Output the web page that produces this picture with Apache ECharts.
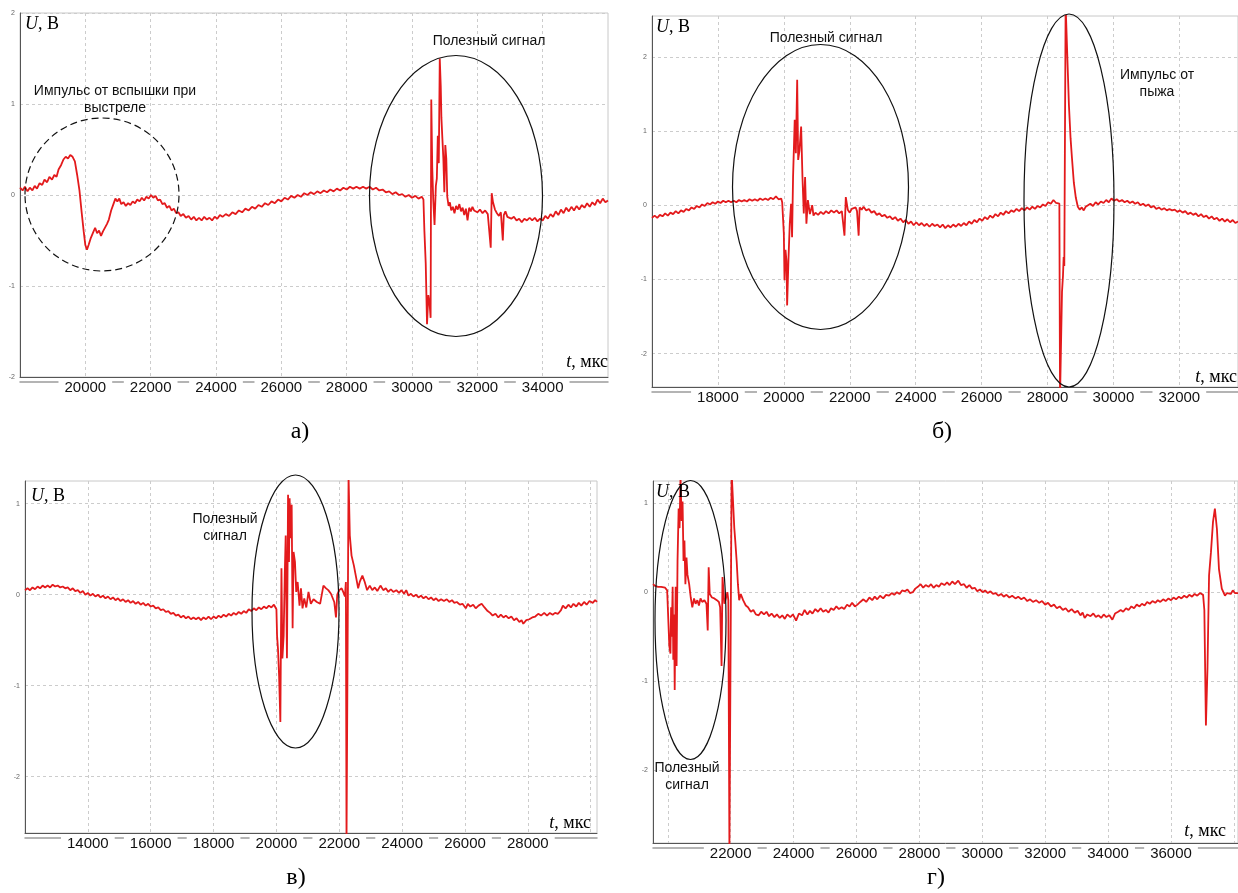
<!DOCTYPE html>
<html><head><meta charset="utf-8">
<script src="https://cdn.jsdelivr.net/npm/echarts@6/dist/echarts.min.js"></script>
<style>html,body{margin:0;padding:0;background:#fff}#c{width:1238px;height:893px}</style>
</head><body><div id="c"></div>
<script>
// ---------- DATA: [t, мкс ; U, В] ----------
const sigA = [
[18000,0.08],[18080,0.05],[18150,0.09],[18230,0.04],[18300,0.08],[18380,0.05],[18450,0.1],[18520,0.07],[18600,0.13],[18680,0.11],
[18750,0.17],[18830,0.14],[18900,0.2],[18980,0.17],[19050,0.22],[19120,0.2],[19180,0.28],[19260,0.33],[19330,0.39],[19400,0.42],
[19470,0.4],[19540,0.44],[19610,0.42],[19680,0.37],[19750,0.22],[19820,0.05],[19890,-0.2],[19950,-0.4],[20000,-0.55],[20050,-0.6],
[20100,-0.55],[20160,-0.48],[20230,-0.42],[20300,-0.36],[20360,-0.42],[20420,-0.39],[20480,-0.45],[20540,-0.4],[20600,-0.38],[20660,-0.32],
[20720,-0.27],[20790,-0.17],[20860,-0.1],[20920,-0.04],[20980,-0.07],[21040,-0.04],[21100,-0.1],[21170,-0.08],[21240,-0.12],[21310,-0.09],
[21380,-0.11],[21450,-0.07],[21520,-0.09],[21590,-0.05],[21660,-0.07],[21730,-0.03],[21800,-0.06],[21870,-0.02],[21940,-0.04],[22010,0.0],
[22080,-0.03],[22150,-0.01],[22220,-0.06],[22290,-0.05],[22360,-0.1],[22430,-0.09],[22500,-0.14],[22570,-0.12],[22640,-0.17],[22710,-0.15],
[22780,-0.2],[22850,-0.19],[22920,-0.23],[23000,-0.21],[23080,-0.25],[23160,-0.23],[23240,-0.27],[23320,-0.24],[23400,-0.28],[23480,-0.25],
[23560,-0.28],[23640,-0.24],[23720,-0.27],[23800,-0.25],[23880,-0.28],[23960,-0.24],[24040,-0.26],[24120,-0.22],[24200,-0.24],[24300,-0.21],
[24400,-0.23],[24500,-0.19],[24600,-0.21],[24700,-0.17],[24800,-0.19],[24900,-0.15],[25000,-0.17],[25100,-0.13],[25200,-0.15],[25300,-0.11],
[25400,-0.13],[25500,-0.09],[25600,-0.11],[25700,-0.07],[25800,-0.09],[25900,-0.05],[26000,-0.07],[26100,-0.03],[26200,-0.05],[26300,-0.01],
[26400,-0.03],[26500,0.0],[26600,-0.02],[26700,0.02],[26800,0.0],[26900,0.03],[27000,0.01],[27100,0.04],[27200,0.02],[27300,0.05],
[27400,0.03],[27500,0.06],[27600,0.04],[27700,0.07],[27800,0.05],[27900,0.08],[28000,0.06],[28100,0.09],[28200,0.07],[28300,0.09],
[28400,0.07],[28500,0.09],[28600,0.07],[28700,0.09],[28800,0.06],[28900,0.08],[29000,0.05],[29100,0.06],[29200,0.03],[29300,0.04],
[29400,0.01],[29500,0.03],[29600,0.0],[29700,0.01],[29800,-0.02],[29900,0.0],[30000,-0.03],[30100,-0.01],[30200,-0.04],[30300,-0.02],
[30350,-0.05],[30380,-0.4],[30420,-0.75],[30460,-1.42],[30500,-1.1],[30540,-1.2],[30570,-1.35],[30590,1.05],[30620,0.3],[30650,-0.05],
[30690,-0.33],[30730,0.1],[30760,0.18],[30790,0.65],[30820,0.35],[30850,1.5],[30880,1.2],[30900,0.85],[30930,0.62],[30960,0.4],
[30990,0.03],[31020,0.55],[31050,0.4],[31080,-0.02],[31120,-0.12],[31160,-0.08],[31200,-0.17],[31250,-0.13],[31300,-0.2],[31350,-0.12],
[31400,-0.16],[31450,-0.1],[31500,-0.18],[31550,-0.14],[31600,-0.22],[31650,-0.15],[31700,-0.28],[31750,-0.14],[31800,-0.18],[31850,-0.13],
[31900,-0.17],[31950,-0.15],[32000,-0.19],[32080,-0.16],[32160,-0.2],[32240,-0.17],[32320,-0.21],[32380,-0.19],[32410,-0.58],[32440,0.02],
[32480,-0.08],[32540,-0.16],[32600,-0.2],[32660,-0.23],[32720,-0.19],[32780,-0.5],[32810,-0.22],[32860,-0.18],[32920,-0.24],[32980,-0.22],
[33040,-0.26],[33120,-0.24],[33200,-0.28],[33280,-0.26],[33360,-0.3],[33440,-0.26],[33520,-0.28],[33600,-0.25],[33680,-0.28],[33760,-0.25],
[33840,-0.29],[33920,-0.26],[34000,-0.28],[34080,-0.23],[34160,-0.26],[34240,-0.21],[34320,-0.24],[34400,-0.18],[34480,-0.22],[34560,-0.16],
[34640,-0.2],[34720,-0.14],[34800,-0.18],[34880,-0.13],[34960,-0.17],[35040,-0.12],[35120,-0.16],[35200,-0.11],[35280,-0.14],[35360,-0.09],
[35440,-0.13],[35520,-0.08],[35600,-0.11],[35680,-0.05],[35760,-0.09],[35840,-0.04],[35920,-0.08],[36000,-0.06]
];
const sigB = [
[16000,-0.17],[16080,-0.14],[16160,-0.17],[16240,-0.13],[16320,-0.15],[16400,-0.11],[16480,-0.14],[16560,-0.1],[16640,-0.12],[16720,-0.08],
[16800,-0.11],[16880,-0.07],[16960,-0.09],[17040,-0.05],[17120,-0.07],[17200,-0.03],[17280,-0.05],[17360,-0.01],[17440,-0.03],[17520,0.01],
[17600,-0.01],[17680,0.03],[17760,0.01],[17840,0.04],[17920,0.02],[18000,0.05],[18080,0.03],[18160,0.06],[18240,0.04],[18320,0.06],
[18400,0.04],[18480,0.06],[18560,0.04],[18640,0.07],[18720,0.05],[18800,0.07],[18880,0.05],[18960,0.08],[19040,0.06],[19120,0.08],
[19200,0.06],[19280,0.09],[19360,0.07],[19440,0.09],[19520,0.07],[19600,0.1],[19680,0.08],[19760,0.12],[19840,0.08],[19920,0.09],
[19950,0.04],[20000,-0.38],[20020,-1.01],[20050,-0.6],[20080,-0.75],[20100,-1.35],[20140,-0.74],[20180,-0.25],[20220,0.02],[20250,-0.43],
[20280,0.38],[20330,1.15],[20365,0.7],[20405,1.69],[20435,0.61],[20475,0.74],[20525,1.06],[20565,0.38],[20605,-0.11],[20645,0.38],
[20685,-0.25],[20730,0.07],[20790,-0.12],[20860,0.0],[20900,-0.14],[20960,-0.1],[21040,-0.13],[21120,-0.09],[21200,-0.12],[21280,-0.08],
[21360,-0.11],[21440,-0.07],[21520,-0.1],[21600,-0.07],[21680,-0.11],[21760,-0.08],[21800,-0.1],[21840,-0.41],[21880,0.11],[21940,-0.06],
[22000,-0.1],[22060,-0.05],[22120,-0.07],[22180,-0.03],[22220,-0.08],[22270,-0.41],[22300,-0.03],[22360,-0.06],[22420,-0.02],[22500,-0.07],
[22580,-0.05],[22660,-0.1],[22740,-0.08],[22820,-0.13],[22900,-0.11],[22980,-0.15],[23060,-0.13],[23140,-0.17],[23220,-0.15],[23300,-0.19],
[23380,-0.16],[23460,-0.21],[23540,-0.18],[23620,-0.23],[23700,-0.2],[23780,-0.25],[23860,-0.22],[23940,-0.27],[24020,-0.23],[24100,-0.27],
[24180,-0.24],[24260,-0.28],[24340,-0.25],[24420,-0.29],[24500,-0.25],[24580,-0.28],[24660,-0.26],[24740,-0.3],[24820,-0.26],[24900,-0.31],
[24980,-0.27],[25060,-0.3],[25140,-0.26],[25220,-0.29],[25300,-0.25],[25380,-0.28],[25460,-0.24],[25540,-0.27],[25620,-0.22],[25700,-0.25],
[25780,-0.2],[25860,-0.23],[25940,-0.18],[26020,-0.21],[26100,-0.16],[26180,-0.19],[26260,-0.14],[26340,-0.17],[26420,-0.12],[26500,-0.15],
[26580,-0.1],[26660,-0.13],[26740,-0.08],[26820,-0.11],[26900,-0.07],[26980,-0.09],[27060,-0.05],[27140,-0.08],[27220,-0.04],[27300,-0.07],
[27380,-0.03],[27460,-0.06],[27540,-0.02],[27620,-0.05],[27700,-0.01],[27780,-0.03],[27860,0.01],[27940,-0.01],[28020,0.04],[28100,0.02],
[28180,0.07],[28260,0.03],[28320,0.05],[28360,0.02],[28380,-2.6],[28420,-2.6],[28440,-1.17],[28470,-0.95],[28490,-0.7],[28510,-0.82],
[28550,2.7],[28610,2.7],[28650,1.35],[28700,0.9],[28740,0.65],[28800,0.3],[28860,0.1],[28920,-0.02],[28980,-0.06],[29040,-0.03],
[29100,-0.07],[29160,-0.02],[29220,-0.04],[29300,0.02],[29380,-0.01],[29460,0.04],[29540,0.01],[29620,0.05],[29700,0.03],[29780,0.07],
[29860,0.04],[29940,0.09],[30020,0.06],[30100,0.08],[30180,0.05],[30260,0.07],[30340,0.04],[30420,0.06],[30500,0.03],[30580,0.05],
[30660,0.02],[30740,0.04],[30820,0.0],[30900,0.02],[30980,-0.01],[31060,0.01],[31140,-0.03],[31220,-0.01],[31300,-0.05],[31380,-0.03],
[31460,-0.06],[31540,-0.04],[31620,-0.07],[31700,-0.05],[31780,-0.07],[31860,-0.06],[31940,-0.09],[32020,-0.07],[32100,-0.1],[32180,-0.08],
[32260,-0.12],[32340,-0.1],[32420,-0.13],[32500,-0.11],[32580,-0.15],[32660,-0.12],[32740,-0.16],[32820,-0.14],[32900,-0.18],[32980,-0.15],
[33060,-0.19],[33140,-0.17],[33220,-0.21],[33300,-0.18],[33380,-0.22],[33460,-0.19],[33540,-0.23],[33620,-0.2],[33700,-0.24],[33780,-0.22]
];
const sigC = [
[12000,0.05],[12080,0.07],[12160,0.05],[12240,0.08],[12320,0.06],[12400,0.09],[12480,0.07],[12560,0.1],[12640,0.08],[12720,0.1],
[12800,0.08],[12880,0.11],[12960,0.09],[13040,0.1],[13120,0.08],[13200,0.09],[13280,0.07],[13360,0.08],[13440,0.05],[13520,0.07],
[13600,0.04],[13680,0.05],[13760,0.02],[13840,0.04],[13920,0.0],[14000,0.02],[14080,-0.01],[14160,0.01],[14240,-0.02],[14320,0.0],
[14400,-0.03],[14480,-0.01],[14560,-0.04],[14640,-0.02],[14720,-0.05],[14800,-0.03],[14880,-0.06],[14960,-0.04],[15040,-0.07],[15120,-0.05],
[15200,-0.08],[15280,-0.06],[15360,-0.09],[15440,-0.07],[15520,-0.1],[15600,-0.08],[15680,-0.11],[15760,-0.09],[15840,-0.12],[15920,-0.1],
[16000,-0.13],[16080,-0.12],[16160,-0.15],[16240,-0.14],[16320,-0.17],[16400,-0.16],[16480,-0.19],[16560,-0.18],[16640,-0.21],[16720,-0.2],
[16800,-0.23],[16880,-0.22],[16960,-0.25],[17040,-0.23],[17120,-0.26],[17200,-0.24],[17280,-0.27],[17360,-0.25],[17440,-0.27],[17520,-0.25],
[17600,-0.28],[17680,-0.25],[17760,-0.27],[17840,-0.24],[17920,-0.27],[18000,-0.24],[18080,-0.26],[18160,-0.23],[18240,-0.25],[18320,-0.22],
[18400,-0.24],[18480,-0.21],[18560,-0.23],[18640,-0.2],[18720,-0.22],[18800,-0.19],[18880,-0.21],[18960,-0.18],[19040,-0.2],[19120,-0.16],
[19200,-0.18],[19280,-0.15],[19360,-0.17],[19440,-0.14],[19520,-0.16],[19600,-0.13],[19680,-0.15],[19760,-0.12],[19840,-0.14],[19920,-0.11],
[19970,-0.12],[20000,-0.16],[20020,-0.45],[20050,-0.6],[20085,-0.89],[20125,-1.4],[20160,0.29],[20190,-0.7],[20230,-0.45],[20265,0.21],
[20295,0.65],[20335,-0.7],[20370,1.1],[20400,0.36],[20420,1.06],[20450,0.62],[20485,0.99],[20515,-0.37],[20545,0.47],[20590,0.36],
[20630,0.03],[20675,0.14],[20735,-0.12],[20780,0.07],[20830,-0.15],[20885,-0.04],[20950,-0.14],[21020,0.03],[21095,-0.1],[21180,-0.05],
[21285,-0.08],[21390,-0.1],[21495,0.1],[21580,0.07],[21650,0.05],[21735,0.01],[21790,0.0],[21840,-0.08],[21895,-0.25],[21935,0.0],
[22000,0.05],[22075,0.07],[22125,0.03],[22180,-0.02],[22210,0.14],[22230,-2.7],[22265,-2.7],[22295,1.3],[22335,0.65],[22390,0.43],
[22465,0.32],[22525,0.21],[22600,0.07],[22650,0.14],[22735,0.21],[22810,0.14],[22885,0.05],[22970,0.1],[23050,0.05],[23130,0.08],
[23210,0.04],[23310,0.1],[23400,0.05],[23480,0.07],[23560,0.03],[23640,0.06],[23720,0.03],[23815,0.05],[23900,0.02],[23980,0.05],
[24060,0.01],[24130,0.05],[24200,-0.01],[24280,0.01],[24360,-0.02],[24440,0.0],[24520,-0.03],[24600,-0.01],[24680,-0.04],[24760,-0.02],
[24840,-0.05],[24920,-0.03],[25000,-0.06],[25080,-0.04],[25160,-0.07],[25240,-0.05],[25330,-0.07],[25420,-0.05],[25500,-0.08],[25585,-0.06],
[25660,-0.09],[25740,-0.08],[25835,-0.11],[25920,-0.1],[26025,-0.15],[26090,-0.1],[26170,-0.13],[26260,-0.11],[26340,-0.15],[26430,-0.12],
[26530,-0.1],[26620,-0.14],[26720,-0.18],[26800,-0.2],[26880,-0.23],[26970,-0.21],[27060,-0.25],[27140,-0.22],[27225,-0.25],[27300,-0.23],
[27390,-0.26],[27475,-0.24],[27560,-0.28],[27640,-0.26],[27730,-0.3],[27800,-0.28],[27855,-0.32],[27950,-0.28],[28045,-0.27],[28140,-0.25],
[28235,-0.24],[28330,-0.21],[28420,-0.23],[28520,-0.2],[28610,-0.23],[28700,-0.2],[28790,-0.22],[28865,-0.2],[28960,-0.21],[29055,-0.17],
[29115,-0.12],[29200,-0.15],[29290,-0.11],[29370,-0.14],[29450,-0.1],[29540,-0.13],[29620,-0.09],[29700,-0.12],[29790,-0.08],[29870,-0.11],
[29960,-0.07],[30065,-0.09],[30140,-0.06],[30200,-0.08]
];
const sigD = [
[19530,0.09],[19600,0.07],[19690,0.06],[19750,0.04],[19790,0.06],[19850,0.04],[19915,0.05],[19980,0.02],[20020,0.0],[20050,-0.61],
[20085,-0.69],[20105,-0.17],[20125,-0.5],[20155,0.06],[20175,-0.76],[20200,-0.25],[20220,-1.1],[20250,0.06],[20280,-0.83],[20310,0.35],
[20345,0.94],[20375,0.72],[20405,1.3],[20440,0.8],[20470,1.02],[20500,0.35],[20530,0.58],[20560,0.09],[20595,0.39],[20625,0.2],
[20680,0.09],[20730,-0.06],[20780,-0.17],[20835,-0.07],[20885,-0.13],[20940,-0.09],[20990,-0.15],[21040,-0.07],[21095,-0.11],[21165,-0.09],
[21230,-0.13],[21270,-0.43],[21300,0.28],[21335,-0.02],[21405,-0.06],[21480,-0.07],[21560,-0.09],[21625,-0.11],[21665,-0.17],[21710,-0.83],
[21740,0.17],[21770,0.02],[21800,-0.13],[21855,-0.06],[21895,0.0],[21925,-0.09],[21960,-2.9],[21990,-2.9],[22030,1.35],[22070,1.35],
[22115,0.72],[22145,0.58],[22190,0.35],[22230,0.09],[22270,-0.09],[22320,-0.02],[22395,-0.09],[22480,-0.15],[22550,-0.17],[22640,-0.22],
[22720,-0.2],[22800,-0.25],[22890,-0.26],[22970,-0.22],[23060,-0.25],[23140,-0.22],[23220,-0.27],[23300,-0.24],[23390,-0.28],[23470,-0.25],
[23560,-0.29],[23640,-0.26],[23720,-0.3],[23800,-0.25],[23895,-0.28],[23980,-0.25],[24080,-0.32],[24170,-0.24],[24270,-0.26],[24350,-0.2],
[24440,-0.25],[24520,-0.21],[24600,-0.24],[24690,-0.19],[24775,-0.22],[24860,-0.18],[24940,-0.22],[25025,-0.2],[25110,-0.23],[25190,-0.18],
[25275,-0.2],[25360,-0.16],[25440,-0.19],[25530,-0.17],[25610,-0.19],[25700,-0.14],[25780,-0.16],[25860,-0.12],[25950,-0.16],[26030,-0.14],
[26120,-0.11],[26220,-0.08],[26310,-0.11],[26410,-0.06],[26500,-0.09],[26580,-0.05],[26660,-0.08],[26750,-0.04],[26850,-0.07],[26940,-0.03],
[27035,-0.04],[27120,-0.01],[27200,-0.03],[27285,0.0],[27370,-0.02],[27450,0.02],[27540,0.01],[27620,0.03],[27700,-0.01],[27790,0.0],
[27870,0.04],[27950,0.06],[28040,0.09],[28120,0.05],[28200,0.08],[28290,0.06],[28370,0.09],[28450,0.05],[28540,0.08],[28620,0.06],
[28700,0.1],[28795,0.08],[28880,0.11],[28960,0.08],[29045,0.12],[29130,0.09],[29235,0.13],[29320,0.08],[29420,0.09],[29500,0.05],
[29590,0.08],[29675,0.04],[29760,0.05],[29840,0.01],[29925,0.03],[30010,0.0],[30090,0.02],[30175,-0.01],[30260,0.01],[30340,-0.02],
[30425,-0.01],[30510,-0.04],[30600,-0.02],[30680,-0.05],[30770,-0.03],[30860,-0.06],[30950,-0.04],[31055,-0.07],[31140,-0.05],[31240,-0.08],
[31330,-0.06],[31430,-0.1],[31520,-0.08],[31610,-0.11],[31710,-0.09],[31810,-0.12],[31900,-0.1],[32000,-0.14],[32090,-0.12],[32185,-0.16],
[32280,-0.14],[32370,-0.18],[32460,-0.16],[32560,-0.2],[32650,-0.18],[32740,-0.22],[32840,-0.19],[32940,-0.23],[33030,-0.21],[33120,-0.26],
[33190,-0.23],[33255,-0.29],[33340,-0.25],[33440,-0.27],[33530,-0.24],[33610,-0.28],[33695,-0.26],[33780,-0.29],[33860,-0.25],[33945,-0.28],
[34040,-0.26],[34135,-0.31],[34220,-0.24],[34320,-0.22],[34400,-0.2],[34480,-0.22],[34570,-0.18],[34650,-0.2],[34740,-0.16],[34825,-0.18],
[34910,-0.14],[35000,-0.16],[35075,-0.13],[35160,-0.15],[35240,-0.11],[35325,-0.13],[35410,-0.1],[35500,-0.12],[35580,-0.09],[35660,-0.11],
[35750,-0.08],[35830,-0.1],[35920,-0.07],[36000,-0.09],[36080,-0.06],[36160,-0.08],[36250,-0.05],[36330,-0.07],[36420,-0.04],[36500,-0.06],
[36580,-0.03],[36670,-0.05],[36750,-0.02],[36835,-0.04],[36920,-0.01],[37020,-0.03],[37060,-0.2],[37110,-1.5],[37160,-0.85],[37210,0.19],
[37270,0.45],[37335,0.79],[37395,0.94],[37460,0.71],[37525,0.26],[37615,0.04],[37715,-0.04],[37780,-0.01],[37840,0.01],[37900,-0.02],
[37965,0.02],[38030,-0.01],[38090,0.0],[38130,-0.01]
];

// tick labels / grid positions (values)
const xLabelsA = [20000,22000,24000,26000,28000,30000,32000,34000];
const xGridA   = [20000,22000,24000,26000,28000,30000,32000,34000];
const yLabelsA = [-2,-1,0,1,2];
const xLabelsB = [18000,20000,22000,24000,26000,28000,30000,32000];
const xGridB   = [18000,20000,22000,24000,26000,28000,30000,32000];
const yLabelsB = [-2,-1,0,1,2];
const xLabelsC = [14000,16000,18000,20000,22000,24000,26000,28000];
const xGridC   = [14000,16000,18000,20000,22000,24000,26000,28000,30000];
const yLabelsC = [-2,-1,0,1];
const xLabelsD = [22000,24000,26000,28000,30000,32000,34000,36000];
const xGridD   = [20000,22000,24000,26000,28000,30000,32000,34000,36000,38000];
const yLabelsD = [-2,-1,0,1];

const panels = [
  {box:{left:20, top:13,  width:588, height:364}, x:[18000,36000], y:[-2,2],       data:sigA, xl:xLabelsA, xg:xGridA, yl:yLabelsA},
  {box:{left:652,top:16,  width:586, height:371}, x:[16000,33780], y:[-2.45,2.55], data:sigB, xl:xLabelsB, xg:xGridB, yl:yLabelsB},
  {box:{left:25, top:481, width:572, height:352}, x:[12000,30200], y:[-2.62,1.25], data:sigC, xl:xLabelsC, xg:xGridC, yl:yLabelsC},
  {box:{left:653,top:481, width:585, height:362}, x:[19530,38130], y:[-2.82,1.25], data:sigD, xl:xLabelsD, xg:xGridD, yl:yLabelsD}
];

const gridLine = {show:true, lineStyle:{color:'#cccccc', width:1, type:[3,3]}};
const grids=[], xAxes=[], yAxes=[], series=[];
panels.forEach((p,i)=>{
  grids.push(Object.assign({show:true, borderColor:'#c8c8c8', borderWidth:1, backgroundColor:'#fff'}, p.box));
  xAxes.push({type:'value', gridIndex:i, min:p.x[0], max:p.x[1], position:'bottom', z:3,
    axisLine:{show:true, onZero:false, lineStyle:{color:'#555', width:1}},
    axisTick:{show:false, customValues:p.xg},
    axisLabel:{customValues:p.xl, color:'#111', fontSize:15, margin:3,
      formatter:(v)=>String(v),
      fontFamily:'"Liberation Sans Narrow","Liberation Sans",Arial,sans-serif',
      backgroundColor:'#fff', padding:[0,6,0,6]},
    splitLine:gridLine});
  xAxes.push({type:'value', gridIndex:i, min:p.x[0], max:p.x[1], position:'bottom', offset:5, z:1,
    axisLine:{show:true, onZero:false, lineStyle:{color:'#9c9c9c', width:1.5}},
    axisTick:{show:false}, axisLabel:{show:false}, splitLine:{show:false}});
  yAxes.push({type:'value', gridIndex:i, min:p.y[0], max:p.y[1],
    axisLine:{show:true, onZero:false, lineStyle:{color:'#555', width:1}},
    axisTick:{show:false, customValues:p.yl},
    axisLabel:{customValues:p.yl, color:'#666', fontSize:7, margin:5, fontFamily:'"Liberation Sans",Arial,sans-serif'},
    splitLine:gridLine});
  series.push({type:'line', xAxisIndex:i*2, yAxisIndex:i, data:p.data, showSymbol:false, symbol:'none',
    clip:true, sampling:null, lineStyle:{color:'#e31a1c', width:1.8}, z:5});
});

const serif='"Liberation Serif","DejaVu Serif",serif';
const sans='"Liberation Sans",Arial,sans-serif';
function ell(cx,cy,rx,ry,dash){return {type:'ellipse', z:100, shape:{cx,cy,rx,ry}, style:{fill:'none', stroke:'#111', lineWidth:1.2, lineDash:dash||null}};}
function note(x,y,text){return {type:'text', z:101, x, y, style:{text, fill:'#111', fontSize:14, fontFamily:sans, align:'center', verticalAlign:'middle', lineHeight:17}};}
function uLab(x,y){return {type:'text', z:101, x, y, style:{text:'{i|U}{n|, В}', align:'left', verticalAlign:'middle',
  rich:{i:{fontStyle:'italic', fontFamily:serif, fontSize:18, fill:'#000'}, n:{fontFamily:serif, fontSize:18, fill:'#000'}}}};}
function tLab(x,y){return {type:'text', z:101, x, y, style:{text:'{i|t}{n|, мкс}', align:'right', verticalAlign:'middle',
  rich:{i:{fontStyle:'italic', fontFamily:serif, fontSize:18, fill:'#000'}, n:{fontFamily:serif, fontSize:18, fill:'#000'}}}};}
function pLab(x,y,text){return {type:'text', z:101, x, y, style:{text, fill:'#000', fontSize:24, fontFamily:serif, align:'center', verticalAlign:'middle'}};}

const graphic = [
  ell(102,194.5,77,76.5,[7,4]), ell(456,196,86.5,140.5),
  ell(820.5,187,88,142.5), ell(1069,200.5,45,186.5),
  ell(295.5,611.5,43.5,136.5), ell(690.5,620,35.5,139.5),
  note(115,99.5,'Импульс от вспышки при\nвыстреле'), note(489,41,'Полезный сигнал'),
  note(826,38,'Полезный сигнал'), note(1157,83.5,'Импульс от\nпыжа'),
  note(225,528,'Полезный\nсигнал'), note(687,776.5,'Полезный\nсигнал'),
  uLab(25,24), uLab(656,27), uLab(31,496), uLab(656,492),
  tLab(608,362), tLab(1237,377), tLab(591,823), tLab(1226,831),
  pLab(300,432,'а)'), pLab(942,432,'б)'), pLab(296,878,'в)'), pLab(936,878,'г)')
];

const chart = echarts.init(document.getElementById('c'), null, {renderer:'canvas'});
chart.setOption({backgroundColor:'#fff', animation:false, grid:grids, xAxis:xAxes, yAxis:yAxes, series, graphic});
</script></body></html>
